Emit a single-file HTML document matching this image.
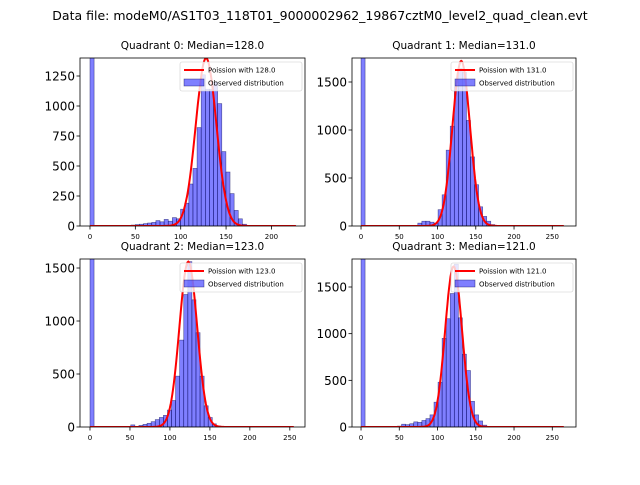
<!DOCTYPE html>
<html><head><meta charset="utf-8"><style>
body{margin:0;background:#fff;}
svg text{font-family:"DejaVu Sans","Liberation Sans",sans-serif;}
</style></head><body>
<svg id="chart" width="640" height="480" viewBox="0 0 640 480" xmlns="http://www.w3.org/2000/svg">
<rect width="640" height="480" fill="#fff"/>
<text x="320" y="20" text-anchor="middle" font-size="12.5">Data file: modeM0/AS1T03_118T01_9000002962_19867cztM0_level2_quad_clean.evt</text>
</svg>
<script>
const medians = [128, 131, 123, 121];
const dataMax = [227, 265, 255, 265];
const curvePeaks = [1400, 1720, 1560, 1720];
const q0Counts = [3000,0,0,5,0,0,0,0,0,5,8,12,15,20,25,30,45,35,55,40,70,60,140,190,350,480,820,1260,1140,1140,1200,1020,620,450,270,130,60,15,5,3,2,1,1,0,0,0,0,0,0,2];
const q1Counts = [3000,0,0,0,0,0,0,0,0,0,0,0,0,0,30,50,50,40,30,170,325,790,1040,1450,1640,1600,1100,720,430,200,100,50,15,0,0,0,0,0,0,0,0,0,0,0,0,0,0,0,0,0];
const q2Counts = [3000,0,0,0,0,0,0,0,0,0,20,0,15,25,35,50,70,90,110,160,250,480,820,1250,1560,1200,890,480,200,90,30,10,0,0,0,0,0,0,0,0,0,0,0,0,0,0,0,0,0,0];
const q3Counts = [3000,0,0,0,0,0,0,0,5,10,30,25,35,55,50,70,90,130,266,480,950,1160,1430,1745,1170,780,605,275,130,65,20,0,0,0,0,0,0,0,0,0,0,0,0,0,0,0,0,0,0,0];
const yTicksQ0 = [0,250,500,750,1000,1250];
const yTicksOther = [0,500,1000,1500];
const xTicksQ0 = [0,50,100,150,200];
const xTicksOther = [0,50,100,150,200,250];

const NS="http://www.w3.org/2000/svg";
const svg=document.getElementById('chart');
function mk(tag,attrs,parent){const e=document.createElementNS(NS,tag);for(const k in attrs)e.setAttribute(k,attrs[k]);(parent||svg).appendChild(e);return e;}

const panels=[
 {box:[80,58,305,226],x:[-11,237],y:1400,counts:q0Counts,yt:yTicksQ0,xt:xTicksQ0},
 {box:[352,58,576,226],x:[-11.8,281],y:1750,counts:q1Counts,yt:yTicksOther,xt:xTicksOther},
 {box:[80,259,305,427],x:[-12.5,269],y:1585,counts:q2Counts,yt:yTicksOther,xt:xTicksOther},
 {box:[352,259,576,427],x:[-11.8,281],y:1800,counts:q3Counts,yt:yTicksOther,xt:xTicksOther}
];
panels.forEach((p,q)=>{
 const [L,T,R,B]=p.box;
 const sx=v=>L+(v-p.x[0])/(p.x[1]-p.x[0])*(R-L);
 const sy=v=>B-v/p.y*(B-T);
 const g=mk('g',{});
 
 
 const cid='clip'+q;
 const cp=mk('clipPath',{id:cid},g);mk('rect',{x:L,y:T,width:R-L,height:B-T},cp);
 const t=mk('text',{x:(L+R)/2,y:T-9,'text-anchor':'middle','font-size':'10.5'},g);
 t.textContent='Quadrant '+q+': Median='+medians[q].toFixed(1);
 
 
 const bw=dataMax[q]/p.counts.length;
 const bars=mk('g',{'clip-path':'url(#'+cid+')'},g);
 p.counts.forEach((c,i)=>{
  if(c<=0)return;
  const x0=sx(i*bw),x1=sx((i+1)*bw);
  const r=mk('rect',{x:x0,y:sy(c),width:x1-x0,height:B-sy(c),fill:'rgba(0,0,255,0.5)',stroke:'rgba(0,0,80,0.6)','stroke-width':'0.6'},bars);
  
  
 });
 const m=medians[q];let d='';
 for(let v=0;v<=dataMax[q];v+=1){const y=curvePeaks[q]*Math.exp(-(v-m)*(v-m)/(2*m));d+=(v?'L':'M')+sx(v).toFixed(1)+','+sy(y).toFixed(1);}
 const ln=mk('path',{d:d,fill:'none',stroke:'red','stroke-width':'2'},bars);
 
 
 mk('rect',{x:L,y:T,width:R-L,height:B-T,fill:'none',stroke:'#000','stroke-width':'0.8'},g);
 p.yt.forEach(v=>{const y=sy(v);mk('line',{x1:L-3.5,x2:L,y1:y,y2:y,stroke:'#000','stroke-width':'0.8'},g);
  const tx=mk('text',{x:L-5,y:y+4.5,'text-anchor':'end','font-size':'12'},g);tx.textContent=v;
  
  });
 p.xt.forEach(v=>{const x=sx(v);mk('line',{x1:x,x2:x,y1:B,y2:B+3.5,stroke:'#000','stroke-width':'0.8'},g);
  const tx=mk('text',{x:x,y:B+13,'text-anchor':'middle','font-size':'7'},g);tx.textContent=v;
  
  });
 const lg=mk('g',{},g);
 
 
 const lx=R-125,ly=T+4;
 mk('rect',{x:lx,y:ly,width:122,height:29,fill:'rgba(255,255,255,0.8)',stroke:'#ccc','stroke-width':'0.6',rx:2},lg);
 mk('line',{x1:lx+4,x2:lx+24,y1:ly+8,y2:ly+8,stroke:'red','stroke-width':'2'},lg);
 const l1=mk('text',{x:lx+28,y:ly+10.5,'font-size':'7'},lg);l1.textContent='Poission with '+m.toFixed(1);
 mk('rect',{x:lx+4,y:ly+17,width:20,height:7,fill:'rgba(0,0,255,0.5)',stroke:'rgba(0,0,80,0.6)','stroke-width':'0.6'},lg);
 const l2=mk('text',{x:lx+28,y:ly+23.5,'font-size':'7'},lg);l2.textContent='Observed distribution';
});
</script>
</body></html>
